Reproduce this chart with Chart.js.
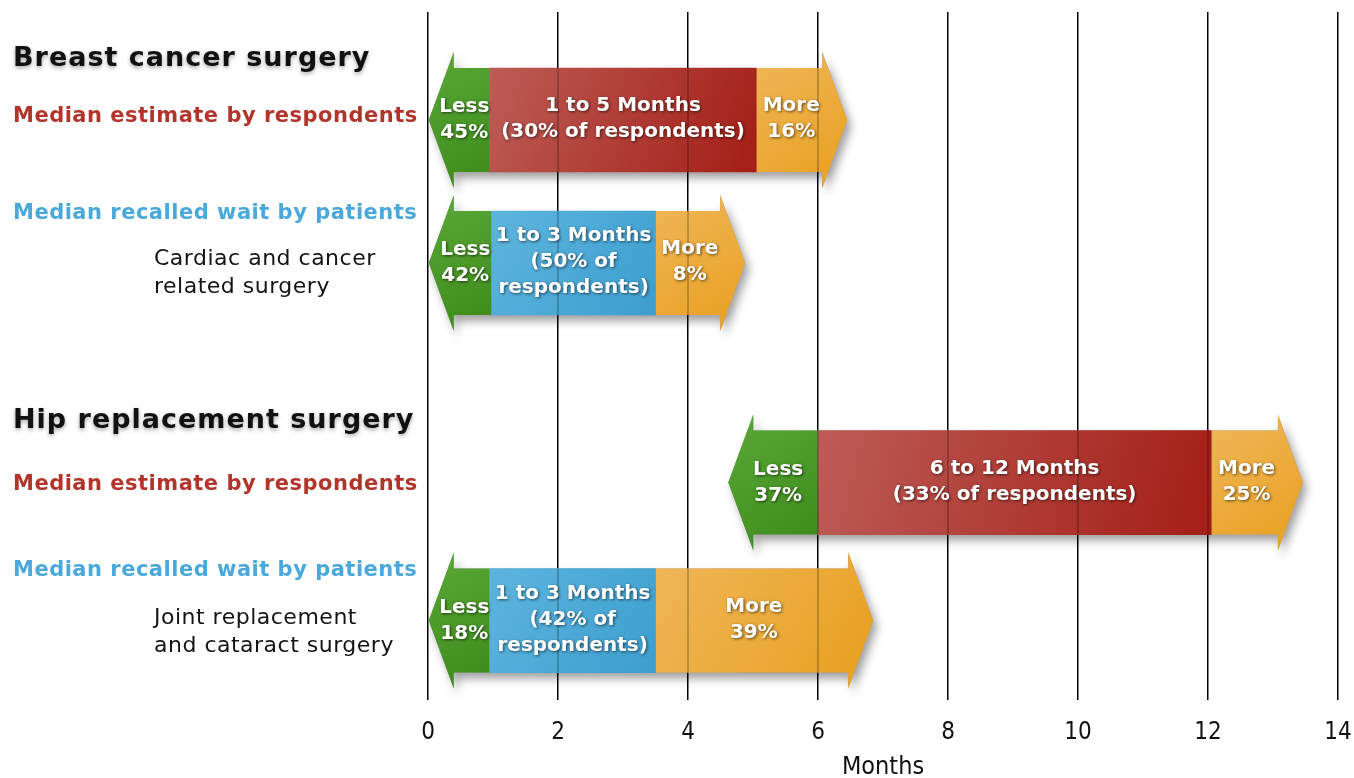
<!DOCTYPE html>
<html>
<head>
<meta charset="utf-8">
<script src="https://cdn.jsdelivr.net/npm/chart.js@4.4.1/dist/chart.umd.min.js"></script>
<style>
  html, body { margin: 0; padding: 0; background: #ffffff; }
  #wrap { position: relative; width: 1354px; height: 778px; }
</style>
</head>
<body>
<div id="wrap"><canvas id="chart"></canvas></div>
<script>
// ------------------------------------------------------------------ data
const categories = [
  'Breast cancer surgery: median estimate by respondents',
  'Breast cancer surgery: median recalled wait by patients',
  'Hip replacement surgery: median estimate by respondents',
  'Hip replacement surgery: median recalled wait by patients'
];
const sectionTitles = ['Breast cancer surgery', 'Hip replacement surgery'];
const seriesNames = ['Median estimate by respondents', 'Median recalled wait by patients'];
const surgeryTypes = [
  ['Cardiac and cancer', 'related surgery'],
  ['Joint replacement', 'and cataract surgery']
];
const rowSeries = [0, 1, 0, 1];              // 0 = respondents, 1 = patients

// months (floating bar ranges)
const lessRange = [[0, 0.95], [0, 0.98], [4.62, 6.0], [0, 0.95]];
const midRange  = [[0.95, 5.05], [0.98, 3.5], [6.0, 12.05], [0.95, 3.5]];
const moreRange = [[5.05, 6.45], [3.5, 4.88], [12.05, 13.46], [3.5, 6.85]];

const lessShare = [45, 42, 37, 18];          // % answering "Less"
const moreShare = [16, 8, 25, 39];           // % answering "More"
const midLabels = [
  ['1 to 5 Months', '(30% of respondents)'],
  ['1 to 3 Months', '(50% of', 'respondents)'],
  ['6 to 12 Months', '(33% of respondents)'],
  ['1 to 3 Months', '(42% of', 'respondents)']
];
const xTickValues = [0, 2, 4, 6, 8, 10, 12, 14];
const xAxisTitle = 'Months';

// ------------------------------------------------------------------ layout / style
const ROW_SLOT = [0, 2, 5.07, 7];
const Y_MIN = -1.51, Y_MAX = 8.11;
const BODY = 104, HEAD_EXTRA = 16, HEAD_LEN = 25;
const COLORS = {
  less: ['#5aa838', '#3c8a1a'],
  more: ['#efb75a', '#e99f1e'],
  mid: [['#bd5c57', '#a31e16'], ['#5db5de', '#3d9ecf']]
};
const LABEL_COLORS = ['#b3342b', '#4aa9da'];
const BAR_FONT = 'bold 20px "DejaVu Sans", sans-serif';
const AXIS_FONT = "'Liberation Sans Narrow', 'DejaVu Sans Condensed', sans-serif";
const LEFT_LABELS = [
  { row: 0, dy: -54, kind: 'title', text: () => sectionTitles[0] },
  { row: 0, dy: 2,   kind: 0,       text: () => seriesNames[0] },
  { row: 1, dy: -44, kind: 1,       text: () => seriesNames[1] },
  { row: 1, dy: 2,   kind: 'sub',   text: () => surgeryTypes[0][0] },
  { row: 1, dy: 30,  kind: 'sub',   text: () => surgeryTypes[0][1] },
  { row: 2, dy: -55, kind: 'title', text: () => sectionTitles[1] },
  { row: 2, dy: 7,   kind: 0,       text: () => seriesNames[0] },
  { row: 3, dy: -45, kind: 1,       text: () => seriesNames[1] },
  { row: 3, dy: 3,   kind: 'sub',   text: () => surgeryTypes[1][0] },
  { row: 3, dy: 31,  kind: 'sub',   text: () => surgeryTypes[1][1] }
];

function toPoints(ranges) {
  return ranges.map((r, i) => ({ x: r, y: ROW_SLOT[i] }));
}

function rowGeom(chart, i) {
  const L = chart.getDatasetMeta(0).data[i];
  const M = chart.getDatasetMeta(1).data[i];
  const R = chart.getDatasetMeta(2).data[i];
  const cy = L.y, bh = L.height / 2, hh = bh + HEAD_EXTRA;
  return {
    cy, bh, hh,
    tipL: Math.min(L.x, L.base), endL: Math.max(L.x, L.base),
    midS: Math.min(M.x, M.base), midE: Math.max(M.x, M.base),
    startR: Math.min(R.x, R.base), tipR: Math.max(R.x, R.base)
  };
}

function outlinePath(ctx, g) {
  const a = g.tipL + HEAD_LEN, b = g.tipR - HEAD_LEN;
  ctx.moveTo(g.tipL, g.cy);
  ctx.lineTo(a, g.cy - g.hh); ctx.lineTo(a, g.cy - g.bh);
  ctx.lineTo(b, g.cy - g.bh); ctx.lineTo(b, g.cy - g.hh);
  ctx.lineTo(g.tipR, g.cy);
  ctx.lineTo(b, g.cy + g.hh); ctx.lineTo(b, g.cy + g.bh);
  ctx.lineTo(a, g.cy + g.bh); ctx.lineTo(a, g.cy + g.hh);
  ctx.closePath();
}

function diagGradient(ctx, x0, y0, x1, y1, c) {
  const gr = ctx.createLinearGradient(x0, y0, x1, y1);
  gr.addColorStop(0, c[0]);
  gr.addColorStop(1, c[1]);
  return gr;
}

function drawLines(ctx, lines, cx, cy) {
  const lh = 26;
  const start = cy - (lines.length - 1) * lh / 2;
  lines.forEach((t, k) => ctx.fillText(t, cx, start + k * lh));
}

const arrowPlugin = {
  id: 'arrows',
  beforeDatasetsDraw(chart) {
    const ctx = chart.ctx;
    for (let i = 0; i < categories.length; i++) {
      const g = rowGeom(chart, i);
      ctx.save();
      ctx.shadowColor = 'rgba(0,0,0,0.38)';
      ctx.shadowBlur = 10;
      ctx.shadowOffsetX = 4;
      ctx.shadowOffsetY = 6;
      ctx.fillStyle = '#999';
      ctx.beginPath(); outlinePath(ctx, g); ctx.fill();
      ctx.restore();
      const a = g.tipL + HEAD_LEN;
      ctx.save();
      ctx.beginPath();
      ctx.moveTo(g.tipL, g.cy);
      ctx.lineTo(a, g.cy - g.hh); ctx.lineTo(a, g.cy - g.bh);
      ctx.lineTo(g.endL, g.cy - g.bh); ctx.lineTo(g.endL, g.cy + g.bh);
      ctx.lineTo(a, g.cy + g.bh); ctx.lineTo(a, g.cy + g.hh);
      ctx.closePath();
      ctx.fillStyle = diagGradient(ctx, g.tipL, g.cy - g.hh, g.endL, g.cy + g.hh, COLORS.less);
      ctx.fill();
      const b = g.tipR - HEAD_LEN;
      ctx.beginPath();
      ctx.moveTo(g.startR, g.cy - g.bh);
      ctx.lineTo(b, g.cy - g.bh); ctx.lineTo(b, g.cy - g.hh);
      ctx.lineTo(g.tipR, g.cy);
      ctx.lineTo(b, g.cy + g.hh); ctx.lineTo(b, g.cy + g.bh);
      ctx.lineTo(g.startR, g.cy + g.bh);
      ctx.closePath();
      ctx.fillStyle = diagGradient(ctx, g.startR, g.cy - g.hh, g.tipR, g.cy + g.hh, COLORS.more);
      ctx.fill();
      ctx.restore();
    }
  },
  afterDatasetsDraw(chart) {
    const ctx = chart.ctx;
    const xs = chart.scales.x, area = chart.chartArea;
    ctx.save();
    ctx.beginPath();
    for (let i = 0; i < categories.length; i++) outlinePath(ctx, rowGeom(chart, i));
    ctx.clip();
    ctx.strokeStyle = 'rgba(0,0,0,0.28)';
    ctx.lineWidth = 1.5;
    xs.ticks.forEach(t => {
      const px = xs.getPixelForValue(t.value);
      ctx.beginPath(); ctx.moveTo(px, area.top); ctx.lineTo(px, area.bottom); ctx.stroke();
    });
    ctx.restore();
    ctx.save();
    ctx.font = BAR_FONT;
    ctx.fillStyle = '#ffffff';
    ctx.textAlign = 'center';
    ctx.textBaseline = 'middle';
    ctx.shadowColor = 'rgba(0,0,0,0.6)';
    ctx.shadowBlur = 3;
    ctx.shadowOffsetX = 1;
    ctx.shadowOffsetY = 1;
    for (let i = 0; i < categories.length; i++) {
      const g = rowGeom(chart, i);
      drawLines(ctx, ['Less', lessShare[i] + '%'], (g.tipL + g.endL) / 2 + 5, g.cy);
      drawLines(ctx, midLabels[i], (g.midS + g.midE) / 2, g.cy - 1);
      drawLines(ctx, ['More', moreShare[i] + '%'], (g.startR + g.tipR - HEAD_LEN) / 2 + 2, g.cy - 1);
    }
    ctx.restore();
  },
  afterDraw(chart) {
    const ctx = chart.ctx;
    const ys = chart.scales.y;
    LEFT_LABELS.forEach(l => {
      const y = ys.getPixelForValue(ROW_SLOT[l.row]) + l.dy;
      ctx.save();
      ctx.textAlign = 'left';
      ctx.textBaseline = 'alphabetic';
      let x = 13;
      if (l.kind === 'title') {
        ctx.font = 'bold 27px "DejaVu Sans", sans-serif';
        ctx.letterSpacing = '1px';
        ctx.fillStyle = '#111111';
        ctx.shadowColor = 'rgba(0,0,0,0.35)';
        ctx.shadowBlur = 4;
        ctx.shadowOffsetY = 2;
      } else if (l.kind === 'sub') {
        ctx.font = '22px "DejaVu Sans", sans-serif';
        ctx.letterSpacing = '0.5px';
        ctx.fillStyle = '#141414';
        x = 154;
      } else {
        ctx.font = 'bold 21px "DejaVu Sans", sans-serif';
        ctx.letterSpacing = '0.5px';
        ctx.fillStyle = LABEL_COLORS[l.kind];
      }
      ctx.fillText(l.text(), x, y);
      ctx.restore();
    });
  }
};

const ctx = document.getElementById('chart').getContext('2d');
new Chart(ctx, {
  type: 'bar',
  data: {
    labels: categories,
    datasets: [
      { label: 'Less', data: toPoints(lessRange), backgroundColor: 'rgba(0,0,0,0)' },
      {
        label: 'Range',
        data: toPoints(midRange),
        backgroundColor: (c) => {
          const kind = rowSeries[c.dataIndex] || 0;
          const ch = c.chart;
          if (!ch.chartArea || c.dataIndex === undefined) return COLORS.mid[kind][0];
          const xs = ch.scales.x, ys = ch.scales.y;
          const r = midRange[c.dataIndex];
          const x0 = xs.getPixelForValue(r[0]), x1 = xs.getPixelForValue(r[1]);
          const cy = ys.getPixelForValue(ROW_SLOT[c.dataIndex]);
          return diagGradient(ch.ctx, x0, cy - BODY / 2, x1, cy + BODY / 2, COLORS.mid[kind]);
        }
      },
      { label: 'More', data: toPoints(moreRange), backgroundColor: 'rgba(0,0,0,0)' }
    ]
  },
  options: {
    indexAxis: 'y',
    responsive: true,
    maintainAspectRatio: false,
    animation: false,
    events: [],
    datasets: { bar: { grouped: false, barThickness: BODY, borderWidth: 0 } },
    layout: { padding: { left: 428, right: 16, top: 12, bottom: 0 } },
    plugins: { legend: { display: false }, tooltip: { enabled: false } },
    scales: {
      y: {
        type: 'linear', display: false, reverse: true, offset: false, grace: 0,
        min: Y_MIN, max: Y_MAX,
        afterDataLimits: (s) => { s.min = Y_MIN; s.max = Y_MAX; }
      },
      x: {
        type: 'linear',
        position: 'bottom',
        offset: false,
        min: xTickValues[0],
        max: xTickValues[xTickValues.length - 1],
        afterBuildTicks: (axis) => { axis.ticks = xTickValues.map(v => ({ value: v })); },
        afterFit: (s) => { s.height = 78; s.paddingLeft = 0; s.paddingRight = 0; },
        grid: { color: '#000000', lineWidth: 1.5, drawTicks: false, offset: false },
        border: { display: false },
        ticks: {
          padding: 21,
          color: '#111111',
          maxRotation: 0,
          font: { family: AXIS_FONT, size: 24, lineHeight: 1 }
        },
        title: {
          display: true,
          text: xAxisTitle,
          color: '#111111',
          padding: { top: 11, bottom: 0 },
          font: { family: AXIS_FONT, size: 25, lineHeight: 0.85 }
        }
      }
    }
  },
  plugins: [arrowPlugin]
});
</script>
</body>
</html>
